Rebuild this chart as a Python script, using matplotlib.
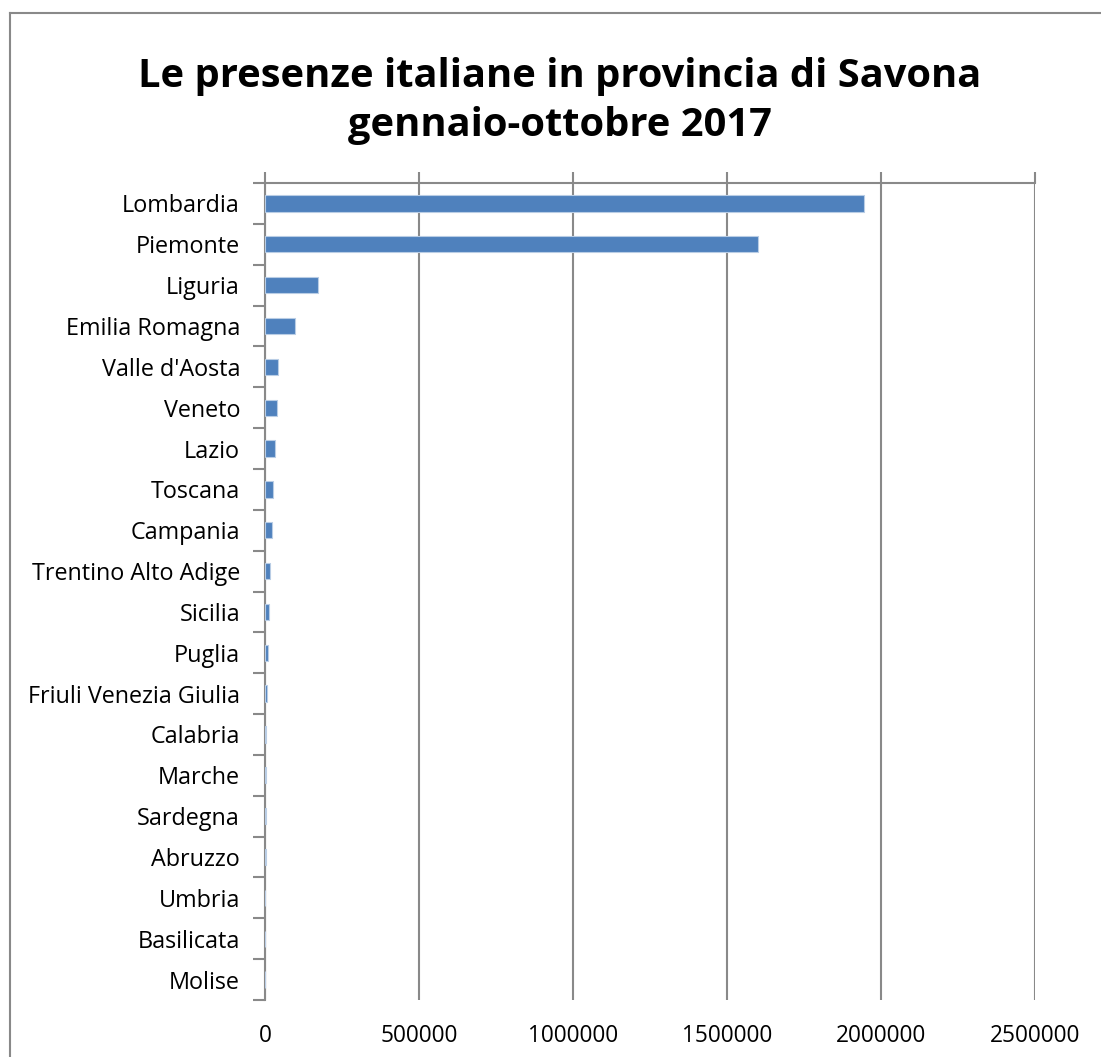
import matplotlib
matplotlib.use('Agg')
import matplotlib.pyplot as plt
from matplotlib.lines import Line2D
import numpy as np

# dati
regioni = ['Lombardia', 'Piemonte', 'Liguria', 'Emilia Romagna', "Valle d'Aosta",
           'Veneto', 'Lazio', 'Toscana', 'Campania', 'Trentino Alto Adige',
           'Sicilia', 'Puglia', 'Friuli Venezia Giulia', 'Calabria', 'Marche',
           'Sardegna', 'Abruzzo', 'Umbria', 'Basilicata', 'Molise']
presenze = [1945000, 1600000, 173000, 98000, 43000,
            38000, 32500, 27000, 24000, 15000,
            12000, 8700, 5400, 3500, 3200,
            2800, 2400, 1500, 800, 500]
xticks = [0, 500000, 1000000, 1500000, 2000000, 2500000]

plt.rcParams['font.family'] = ['Open Sans', 'DejaVu Sans']
grigio = '#898989'

fig = plt.figure(figsize=(11.01, 10.57), dpi=100)
ax = fig.add_axes([265 / 1101, 1 - 1000 / 1057, 770 / 1101, 817 / 1057])

pos = np.arange(len(regioni))
ax.barh(pos, presenze, height=0.4, color='#4F81BD', edgecolor='#B9CDE5',
        linewidth=0.8, zorder=3)

ax.set_xlim(0, 2500000)
ax.set_ylim(len(regioni) - 0.5, -0.5)

# etichette categorie al centro, tacche ai confini
ax.set_yticks(pos)
ax.set_yticklabels(regioni, fontsize=16.8)
ax.set_yticks(np.arange(len(regioni) + 1) - 0.5, minor=True)
ax.tick_params(axis='y', which='major', length=0, pad=18)
ax.tick_params(axis='y', which='minor', length=9, width=1.5, color=grigio)

# asse valori: linea in alto, etichette in basso
ax.set_xticks(xticks)
ax.set_xticklabels([str(v) for v in xticks], fontsize=16.3)
ax.tick_params(axis='x', top=True, bottom=False, labeltop=False, labelbottom=True,
               length=8, width=1.5, color=grigio, pad=9)
ax.grid(axis='x', color=grigio, linewidth=1.5, zorder=0)

for s in ['bottom', 'right']:
    ax.spines[s].set_visible(False)
for s in ['top', 'left']:
    ax.spines[s].set_color(grigio)
    ax.spines[s].set_linewidth(1.5)
    ax.spines[s].set_zorder(2)

fig.text(560 / 1101, 1 - 76 / 1057, 'Le presenze italiane in provincia di Savona',
         ha='center', va='center', fontsize=28.7, fontweight='bold')
fig.text(560 / 1101, 1 - 126 / 1057, 'gennaio-ottobre 2017',
         ha='center', va='center', fontsize=28.7, fontweight='bold')

# bordo dell'area grafico
fig.add_artist(Line2D([9.5 / 1101, 9.5 / 1101], [0, 1 - 13 / 1057],
                      transform=fig.transFigure, color=grigio, linewidth=1.5))
fig.add_artist(Line2D([9.5 / 1101, 1], [1 - 13 / 1057, 1 - 13 / 1057],
                      transform=fig.transFigure, color=grigio, linewidth=1.5))

fig.savefig('out.png', dpi=100)
